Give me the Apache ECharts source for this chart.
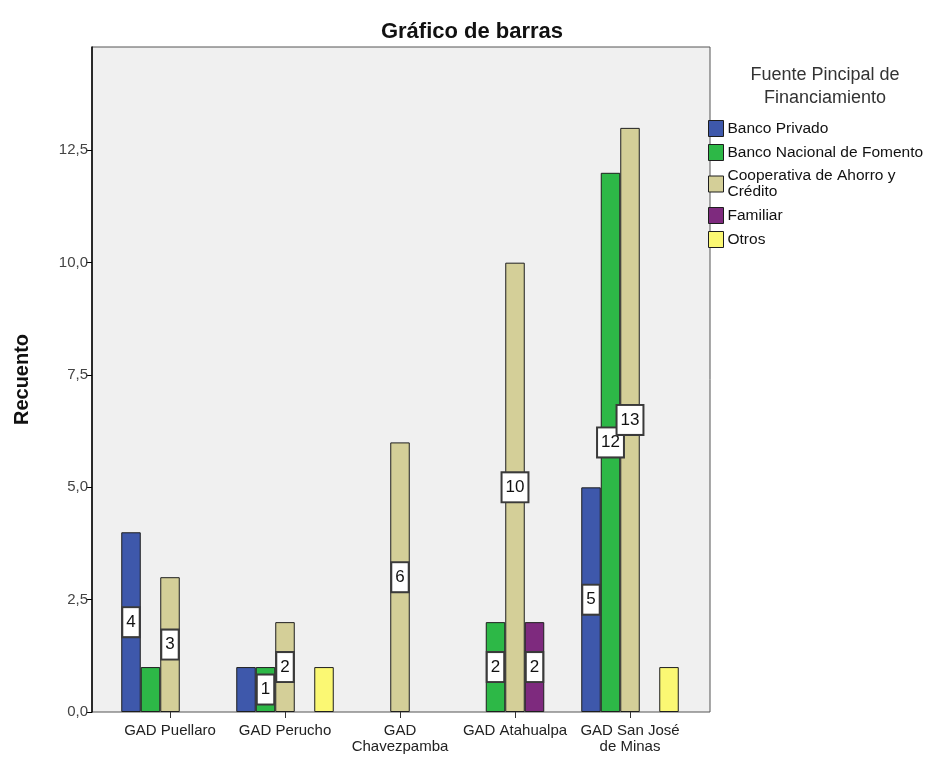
<!DOCTYPE html>
<html><head><meta charset="utf-8">
<script src="https://cdn.jsdelivr.net/npm/echarts@6/dist/echarts.min.js"></script>
<style>html,body{margin:0;padding:0;background:#fff}#c{width:935px;height:760px}</style>
</head><body><div id="c"></div>
<script>
const categories = ['GAD Puellaro', 'GAD Perucho', 'GAD\nChavezpamba', 'GAD Atahualpa', 'GAD San José\nde Minas'];
const seriesNames = ['Banco Privado', 'Banco Nacional de Fomento', 'Cooperativa de Ahorro y\nCrédito', 'Familiar', 'Otros'];
const bancoPrivado   = [4, 1, 0, 0, 5];
const bancoNacional  = [1, 1, 0, 2, 12];
const cooperativa    = [3, 2, 6, 10, 13];
const familiar       = [0, 0, 0, 2, 0];
const otros          = [0, 1, 0, 0, 1];
// which bars carry a value label in the reference
const lblPrivado   = [true, false, false, false, true];
const lblNacional  = [false, true, false, true, true];
const lblCoop      = [true, true, true, true, true];
const lblFamiliar  = [false, false, false, true, false];
const lblOtros     = [false, false, false, false, false];
const yTicks = [0, 2.5, 5, 7.5, 10, 12.5];
const yMax = 14.8;

const colors = ['#3e58ab', '#2db847', '#d4cf98', '#7e2a7e', '#fbf873'];
const values = [bancoPrivado, bancoNacional, cooperativa, familiar, otros];
const lbls = [lblPrivado, lblNacional, lblCoop, lblFamiliar, lblOtros];
const FF = '"Liberation Sans", Arial, sans-serif';

const series = seriesNames.map((n, i) => ({
  name: n, type: 'bar', xAxisIndex: 1, yAxisIndex: 1,
  barWidth: 19.5, barGap: '0%',
  itemStyle: { color: colors[i], borderColor: '#1e1e1e', borderWidth: 1 },
  data: values[i].map((v, j) => v === 0 ? '-' : {
    value: v,
    label: {
      show: lbls[i][j], position: 'inside', formatter: '{c}',
      backgroundColor: '#fff', borderColor: '#3a3a3a', borderWidth: 2,
      padding: [6, 3, 5, 3], fontSize: 17, color: '#111', fontFamily: FF
    }
  })
}));

const chart = echarts.init(document.getElementById('c'), null, { renderer: 'canvas' });
chart.setOption({
  animation: false,
  backgroundColor: '#fff',
  title: [
    { text: 'Gráfico de barras', left: 467, top: 16, textAlign: 'center',
      textStyle: { fontSize: 22, fontWeight: 'bold', color: '#111', fontFamily: FF } },
    { text: 'Fuente Pincipal de\nFinanciamiento', left: 820, top: 59, textAlign: 'center',
      textStyle: { fontSize: 18, fontWeight: 'normal', color: '#333', lineHeight: 23, fontFamily: FF } }
  ],
  legend: {
    orient: 'vertical', left: 708, top: 120, padding: 0, itemWidth: 15, itemHeight: 16, itemGap: 7,
    icon: 'rect', selectedMode: false,
    itemStyle: { borderColor: '#1e1e1e', borderWidth: 1 },
    textStyle: { fontSize: 15.5, color: '#111', lineHeight: 16, fontFamily: FF, padding: [0, 0, 0, -1] },
    data: seriesNames
  },
  grid: [
    { left: 92, top: 47, width: 618, height: 665, show: true, backgroundColor: '#f0f0f0', borderColor: '#555', borderWidth: 1 },
    { left: 112.5, top: 47, width: 575, height: 665 }
  ],
  xAxis: [
    { gridIndex: 0, type: 'value', min: 0, max: 1, show: false },
    { gridIndex: 1, type: 'category', data: categories,
      axisLine: { show: false },
      axisTick: { show: true, alignWithLabel: true, length: 6, lineStyle: { color: '#333' } },
      axisLabel: { fontSize: 15, color: '#222', margin: 11, lineHeight: 16, fontFamily: FF, interval: 0 } }
  ],
  yAxis: [
    { gridIndex: 0, type: 'value', min: 0, max: yMax, interval: 2.5,
      name: 'Recuento', nameLocation: 'middle', nameGap: 60, nameRotate: 90,
      nameTextStyle: { fontSize: 20, fontWeight: 'bold', color: '#111', fontFamily: FF },
      axisLine: { show: true, lineStyle: { color: '#000', width: 1.5 } },
      axisTick: { show: true, length: 6, lineStyle: { color: '#000' }, customValues: yTicks },
      splitLine: { show: false },
      axisLabel: { fontSize: 15, color: '#444', margin: 4, fontFamily: FF, customValues: yTicks,
        formatter: v => v.toFixed(1).replace('.', ',') } },
    { gridIndex: 1, type: 'value', min: 0, max: yMax, show: false }
  ],
  series: series
});
</script></body></html>
